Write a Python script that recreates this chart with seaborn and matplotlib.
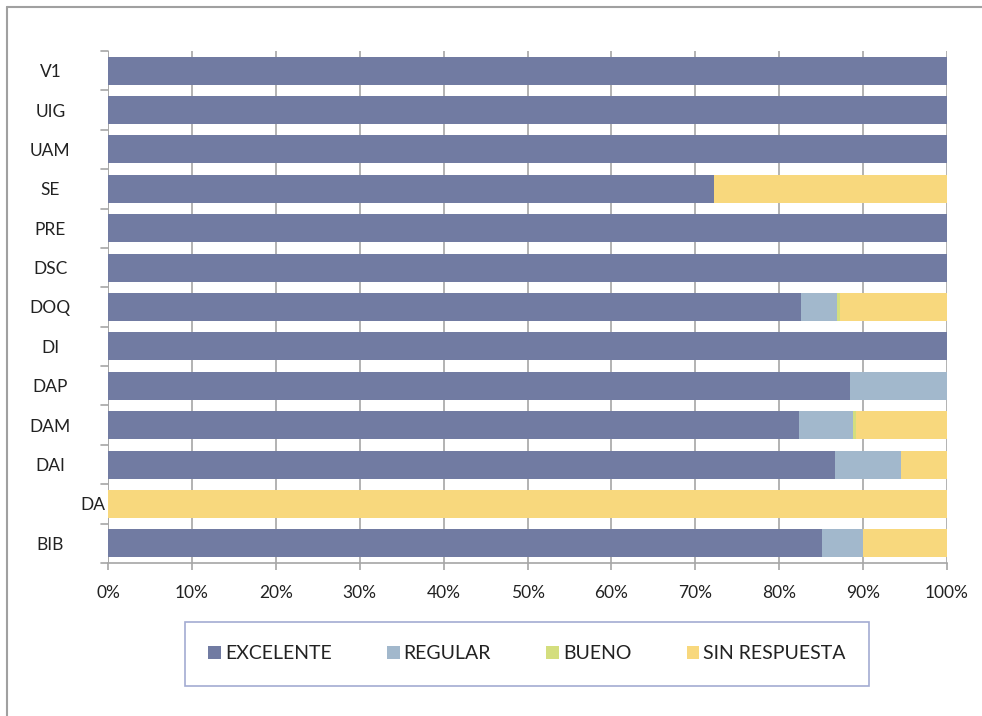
import numpy as np
import pandas as pd
import matplotlib.pyplot as plt
import seaborn as sns
from matplotlib.patches import Patch
from matplotlib.transforms import offset_copy

# =======================================
# Data (shares per area)
# =======================================
AREAS = ["V1", "UIG", "UAM", "SE", "PRE", "DSC", "DOQ",
         "DI", "DAP", "DAM", "DAI", "DA", "BIB"]
EXCELENTE = [1.000, 1.000, 1.000, 0.722, 1.000, 1.000, 0.826,
             1.000, 0.884, 0.824, 0.867, 0.000, 0.851]
REGULAR = [0.000, 0.000, 0.000, 0.000, 0.000, 0.000, 0.043,
           0.000, 0.116, 0.064, 0.078, 0.000, 0.049]
BUENO = [0.000, 0.000, 0.000, 0.000, 0.000, 0.000, 0.003,
         0.000, 0.000, 0.004, 0.000, 0.000, 0.000]
SIN_RESPUESTA = [0.000, 0.000, 0.000, 0.278, 0.000, 0.000, 0.128,
                 0.000, 0.000, 0.108, 0.055, 1.000, 0.100]

SERIES = ["EXCELENTE", "REGULAR", "BUENO", "SIN RESPUESTA"]
COLORS = ["#717BA2", "#A2B8CC", "#D4DE7E", "#F8D87D"]
XTICKS = [0, 0.1, 0.2, 0.3, 0.4, 0.5, 0.6, 0.7, 0.8, 0.9, 1.0]

df = pd.DataFrame({
    "area": AREAS,
    "EXCELENTE": EXCELENTE,
    "REGULAR": REGULAR,
    "BUENO": BUENO,
    "SIN RESPUESTA": SIN_RESPUESTA,
})
# cumulative ends, drawn back to front so the bars look stacked
cum = df[SERIES].cumsum(axis=1)

sns.set_style("white")
plt.rcParams["font.family"] = ["Lato", "DejaVu Sans"]

fig = plt.figure(figsize=(9.82, 7.16), dpi=100)
ax = fig.add_axes([0.110, 0.2137, 0.8544, 0.7151])

for name, color in reversed(list(zip(SERIES, COLORS))):
    sns.barplot(x=cum[name], y=df["area"], order=AREAS, orient="h",
                color=color, width=0.71, saturation=1, edgecolor="none",
                ax=ax, zorder=2)

ax.set_xlim(0, 1)
ax.set_ylim(len(AREAS) - 0.5, -0.5)
ax.set_xticks(XTICKS)
ax.set_xticklabels([f"{int(round(t * 100))}%" for t in XTICKS],
                   fontsize=12.5, color="#222222")
ax.set_xlabel("")
ax.set_ylabel("")

# gridlines
ax.grid(axis="x", color="#A6A6A6", linewidth=1.2, zorder=0)
ax.grid(axis="y", visible=False)
ax.set_axisbelow(True)

for side in ["top", "right", "left"]:
    ax.spines[side].set_visible(False)
ax.spines["bottom"].set_color("#A6A6A6")
ax.spines["bottom"].set_linewidth(1.2)
ax.axvline(0, color="#A6A6A6", linewidth=1.2, zorder=1)

# x ticks below, y ticks at category boundaries
ax.tick_params(axis="x", bottom=True, length=5, width=1.2, color="#A6A6A6", pad=11)
ax.set_yticks(np.arange(len(AREAS)))
ax.set_yticklabels(AREAS, fontsize=12.5, color="#222222", ha="center")
ax.tick_params(axis="y", left=False, pad=38)
for b in np.arange(-0.5, len(AREAS), 1.0):
    ax.plot([-0.008, 0], [b, b], color="#A6A6A6", linewidth=1.2,
            clip_on=False, transform=ax.transData)

# DA label sits further right in the original
for lbl in ax.get_yticklabels():
    if lbl.get_text() == "DA":
        lbl.set_transform(offset_copy(lbl.get_transform(), fig=fig, x=42, y=0, units="dots"))

# outer frame (left and top edges visible)
fig.add_artist(plt.Line2D([0.0071, 0.0071], [0, 0.990], color="#A0A0A0", linewidth=1.5))
fig.add_artist(plt.Line2D([0.0071, 1.0], [0.990, 0.990], color="#A0A0A0", linewidth=1.5))

handles = [Patch(facecolor=c, edgecolor="none", label=s) for s, c in zip(SERIES, COLORS)]
leg = fig.legend(handles=handles, loc="center", ncol=4,
                 bbox_to_anchor=(0.5367, 0.0866),
                 frameon=True, fancybox=False, fontsize=14,
                 handlelength=0.65, handleheight=0.65, handletextpad=0.2,
                 columnspacing=2.85, borderpad=1.2, borderaxespad=0)
leg.get_frame().set_edgecolor("#8C96C6")
leg.get_frame().set_linewidth(1.2)
for t in leg.get_texts():
    t.set_color("#222222")

fig.savefig("out.png", dpi=100)
